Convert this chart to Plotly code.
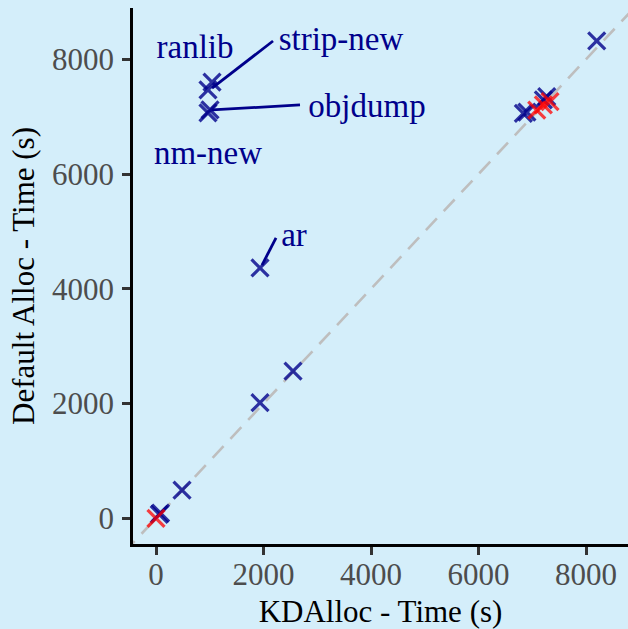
import plotly.graph_objects as go

# data: KDAlloc time (x) vs default allocator time (y), seconds
blue_x = [8199, 6834, 6900, 7206, 7269, 1042, 967, 1005, 967, 1935, 1935, 2549, 484, 60, 85]
blue_y = [8319, 7059, 7080, 7291, 7348, 7602, 7465, 7117, 7065, 4363, 2015, 2567, 493, 70, 90]
red_x = [7083, 7206, 7330, 0]
red_y = [7116, 7204, 7261, 0]

labels = ["ranlib", "strip-new", "objdump", "nm-new", "ar"]
label_x = [726, 3442, 3926, 967, 2567]
label_y = [8170, 8300, 7143, 6323, 4894]

# leader segments (label end, point end)
seg_x = [[2177, 1042], [2679, 1042], [2233, 1972]]
seg_y = [[8319, 7499], [7205, 7117], [4886, 4414]]

ticks = [0, 2000, 4000, 6000, 8000]

bg = "#d4eefa"
font_family = "Liberation Serif, Times New Roman, serif"

fig = go.Figure()
fig.add_trace(go.Scatter(x=[-600, 9200], y=[-600, 9200], mode="lines",
                         line=dict(color="#bebebe", width=2.6, dash="16px,10px"),
                         hoverinfo="skip", showlegend=False))
fig.add_trace(go.Scatter(x=blue_x, y=blue_y, mode="markers",
                         marker=dict(symbol="x-thin", size=17, line=dict(color="rgba(0,0,139,0.8)", width=3.2)),
                         showlegend=False))
fig.add_trace(go.Scatter(x=red_x, y=red_y, mode="markers",
                         marker=dict(symbol="x-thin", size=17, line=dict(color="rgba(255,0,0,0.75)", width=3.2)),
                         showlegend=False))
for sx, sy in zip(seg_x, seg_y):
    fig.add_trace(go.Scatter(x=sx, y=sy, mode="lines", line=dict(color="#00008b", width=2.8),
                             showlegend=False, hoverinfo="skip"))
fig.add_trace(go.Scatter(x=label_x, y=label_y, mode="text", text=labels,
                         textfont=dict(family=font_family, size=33, color="#00008b"),
                         showlegend=False, hoverinfo="skip"))

axis_common = dict(tickvals=ticks, showgrid=False, zeroline=False, showline=True,
                   linecolor="black", linewidth=2.5, ticks="outside", ticklen=8, tickwidth=2.5,
                   tickcolor="#333333", tickfont=dict(family=font_family, size=31, color="#4d4d4d"))

fig.update_layout(
    width=628, height=629,
    margin=dict(l=133, r=0, t=8, b=85),
    paper_bgcolor=bg, plot_bgcolor=bg,
    font=dict(family=font_family, size=31, color="black"),
    xaxis=dict(range=[-428, 8781], ticklabelstandoff=-7,
               title=dict(text="KDAlloc - Time (s)", font=dict(size=31, color="black"), standoff=14),
               **axis_common),
    yaxis=dict(range=[-448, 8894], ticklabelstandoff=2,
               title=dict(text="Default Alloc - Time (s)", font=dict(size=31, color="black"), standoff=9),
               **axis_common),
)
fig.write_html("out.html", config={"displayModeBar": False},
               post_script="document.body.style.margin='0';document.body.style.background='#d4eefa';")
